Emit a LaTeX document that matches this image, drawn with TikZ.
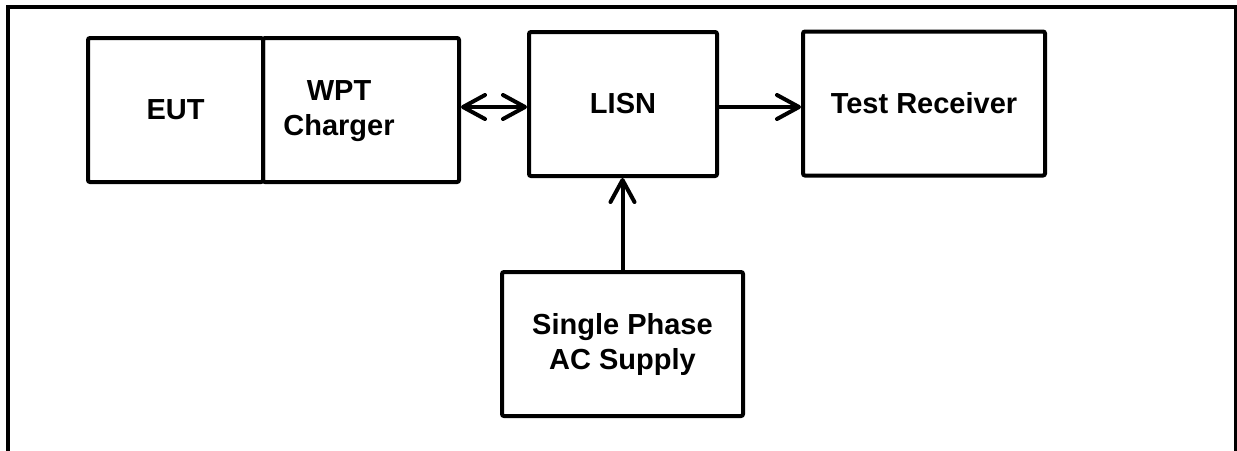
\documentclass[tikz,border=0pt]{standalone}
\usepackage{fontspec}
\setmainfont{Liberation Sans}
\usepackage{tikz}
\usetikzlibrary{arrows.meta,positioning,calc}

\begin{document}
\begin{tikzpicture}[x=0.5pt,y=-0.5pt,
    blk/.style={draw,line width=2pt,rounded corners=1pt,minimum height=72pt,
      align=center,font=\fontsize{14.5}{17.5}\selectfont\bfseries},
    barb/.tip={Straight Barb[length=11pt,width=12pt,line cap=round,line join=round]},
    link/.style={line width=2pt,-barb},
    bilink/.style={line width=2pt,barb-barb}]
      \useasboundingbox (0,0) rectangle (1237,450);
      % outer frame, open at the bottom
      \draw[line width=2pt] (8,470) -- (8,6.5) -- (1236,6.5) -- (1236,470);
      \node[blk,minimum width=87.5pt] (eut) at (175.5,110) {EUT};
      \node[blk,minimum width=98pt] (wpt) at (361,110) {};
      \node[font=\fontsize{14.5}{17.5}\selectfont\bfseries,align=center] (wptlabel)
        at (339,111) {WPT\\Charger};
      \node[blk,minimum width=94pt] (lisn) at (623,104) {LISN};
      \node[blk,minimum width=121pt] (rx) at (924,103.5) {Test Receiver};
      \node[blk,minimum width=120.5pt] (ac) at (622.5,344) {Single Phase\\AC Supply};
      \draw[bilink] ([yshift=-1.5pt]wpt.east |- lisn.west) -- ([yshift=-1.5pt]lisn.west);
      \draw[link] ([yshift=-1.5pt]lisn.east) -- ([yshift=-1.5pt]lisn.east -| rx.west);
      \draw[link] (ac.north) -- (ac.north |- lisn.south);
\end{tikzpicture}
\end{document}
